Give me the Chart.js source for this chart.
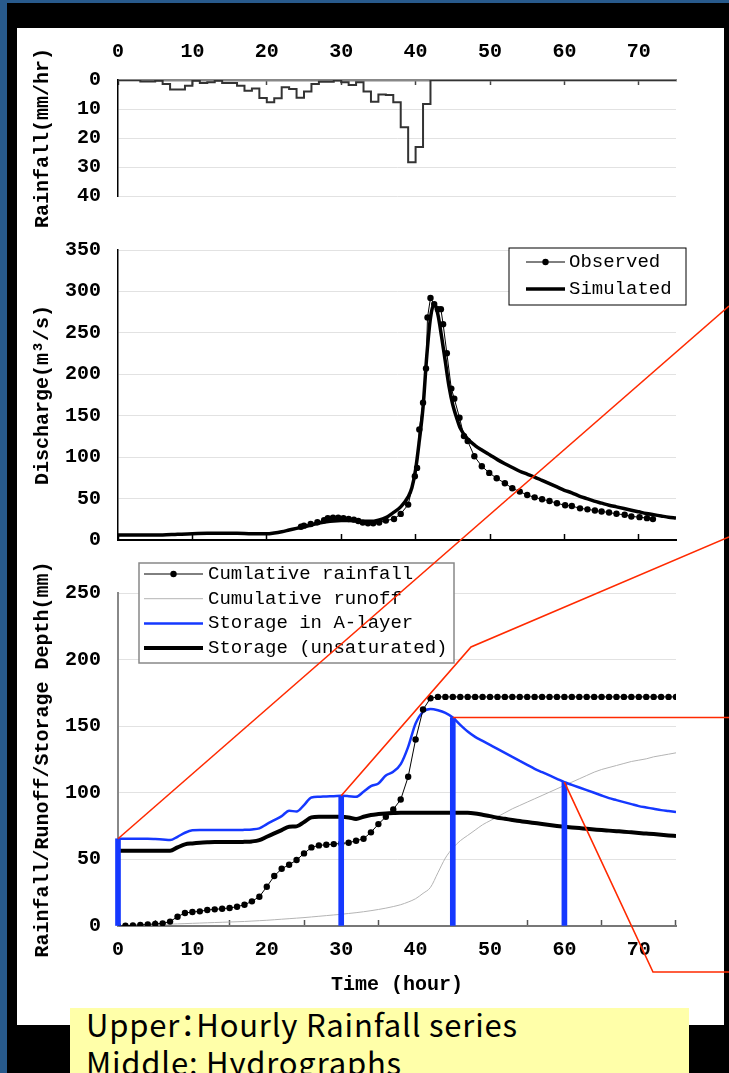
<!DOCTYPE html>
<html>
<head>
<meta charset="utf-8">
<title>Rainfall / Hydrograph / Storage</title>
<script src="https://cdn.jsdelivr.net/npm/chart.js@4.4.0/dist/chart.umd.min.js"></script>
<style>
    html, body { margin: 0; padding: 0; background: #000; overflow: hidden; }
    #page { position: relative; width: 729px; height: 1073px; overflow: hidden; background: #000; }
    .frame-left { position: absolute; left: 0; top: 0; width: 7px; height: 1073px; background: #285a8c; }
    .frame-top { position: absolute; left: 0; top: 0; width: 729px; height: 3px; background: #285a8c; }
    #panel { position: absolute; left: 17px; top: 28px; width: 707px; height: 997px; background: #fff; }
    canvas.plot { position: absolute; left: 17px; }
    #overlay { position: absolute; left: 0; top: 0; z-index: 5; pointer-events: none; }
    #caption {
        position: absolute; left: 70px; top: 1008px; width: 603px; height: 65px;
        padding-left: 16px; background: #ffffa9; z-index: 6; overflow: hidden;
        font-family: 'Noto Sans CJK JP', sans-serif; font-size: 31px; line-height: 38px;
        letter-spacing: 0.8px; font-feature-settings: "palt"; color: #000; white-space: nowrap;
    }
    #caption div:first-child { margin-top: -3px; }
</style>
</head>
<body>
<div id="page">
    <div class="frame-left"></div>
    <div class="frame-top"></div>
    <div id="panel"></div>
    <canvas id="rainChart" class="plot" width="707" height="200" style="top:28px"></canvas>
    <canvas id="flowChart" class="plot" width="707" height="330" style="top:228px"></canvas>
    <canvas id="storageChart" class="plot" width="707" height="480" style="top:545px"></canvas>
    <canvas id="overlay" width="729" height="1073"></canvas>
    <div id="caption">
        <div>Upper：Hourly Rainfall series</div>
        <div>Middle: Hydrographs</div>
    </div>
</div>

<script>
// ---- data ----

const hours = [
    0, 1, 2, 3, 4, 5, 6, 7, 8, 9, 10, 11, 12, 13, 14, 15, 16, 17, 18, 19,
    20, 21, 22, 23, 24, 25, 26, 27, 28, 29, 30, 31, 32, 33, 34, 35, 36, 37, 38, 39,
    40, 41, 42, 43, 44, 45, 46, 47, 48, 49, 50, 51, 52, 53, 54, 55, 56, 57, 58, 59,
    60, 61, 62, 63, 64, 65, 66, 67, 68, 69, 70, 71, 72, 73, 74, 75
];

// hourly rainfall (mm/hr), value i covers hour i..i+1
const rainfall = [
    0, 0, 0, 0.5, 0.5, 0.3, 1.4, 3.3, 3.3, 2, 0.3, 1, 0.8, 0.3, 1, 1, 2, 3.7, 2.9, 6.2,
    7.7, 6.3, 2.5, 3.1, 6.1, 4, 1.4, 0.6, 0.6, 0.2, 0.8, 1.7, 0.8, 4, 7.5, 5, 5.2, 7.7, 16.3, 28.4,
    23.1, 8.3, 0, 0, 0, 0, 0, 0, 0, 0, 0, 0, 0, 0, 0, 0, 0, 0, 0, 0,
    0, 0, 0, 0, 0, 0, 0, 0, 0, 0, 0, 0, 0, 0, 0, 0
];

// observed discharge (m3/s)
const obsTime = [
    24.6, 25.0, 25.9, 26.8, 27.7, 28.2, 28.9, 29.6, 30.3, 31.0, 31.7, 32.3, 32.9, 33.6, 34.3, 35.1,
    36.0, 37.1, 38.0, 39.0, 39.9, 40.2, 40.5, 41.0, 41.4, 41.6, 42.0, 42.5, 43.0, 43.4, 43.7, 44.2,
    44.8, 45.2, 45.9, 46.5, 47.0, 47.9, 48.9, 49.9, 50.9, 52.0, 53.0, 54.0, 55.0, 56.0, 57.0, 58.0,
    59.0, 60.1, 61.0, 62.1, 63.1, 64.1, 65.0, 66.0, 67.0, 68.1, 69.0, 70.1, 71.1, 71.9
];
const obsQ = [
    16, 17.3, 19.4, 21.4, 23.8, 26.2, 27, 27, 26.2, 25.4, 24.6, 23, 21, 20.2, 20.2, 21,
    23.4, 25.4, 31.5, 42.7, 77, 87, 133.5, 165.7, 207, 268.5, 292, 284.7, 278.6, 278.6, 260.5, 225.4,
    182.7, 170.6, 147.6, 125.4, 119.4, 101, 89, 81, 74.5, 68.5, 62.4, 58.4, 54.3, 51.5, 49.1, 47.1,
    44.3, 41.9, 41, 38.2, 37, 35.6, 34.4, 33.2, 31.6, 30.4, 28.4, 27.6, 26.4, 25.2
];

// simulated discharge (m3/s)
const simTime = [
    0, 2, 4, 6, 8, 10, 12, 14, 16, 18, 20, 21, 22, 23, 24, 25, 26, 27, 28, 29,
    30, 31, 32, 33, 34, 35, 36, 37, 38, 39, 39.5, 40, 40.5, 41, 41.5, 42, 42.5, 43, 43.5, 44,
    44.5, 45, 45.5, 46, 47, 48, 49, 50, 51, 52, 53, 54, 55, 56, 57, 58, 59, 60, 61, 62,
    63, 64, 65, 66, 67, 68, 69, 70, 71, 72, 73, 74, 75
];
const simQ = [
    6, 6, 6, 6, 7, 7.5, 8, 8, 8, 7.5, 7.5, 8.5, 10, 12, 14, 16, 18, 20.5, 22, 23,
    23.5, 23.5, 23, 22.5, 22.5, 24, 27, 33, 40, 52, 63, 85, 120, 160, 222, 268, 285, 272, 245, 215,
    185, 163, 148, 135, 122, 114, 108, 102.5, 97, 92, 87.5, 83, 79.5, 76, 72, 68, 64, 60, 57, 53,
    50, 47, 44.5, 42, 40, 38, 36, 34, 32, 30.5, 29, 27.5, 26.5
];

// depths (mm), one value per hour
const cumRainfall = [
    0, 0.2, 0.5, 0.8, 1.2, 1.6, 2, 3.3, 7, 9.8, 10.5, 11, 12, 12.5, 13, 13.5, 14.5, 16, 18.5, 22,
    29.5, 37.5, 43, 46, 49.5, 54.5, 59, 60.5, 61, 61.5, 62, 62.5, 64, 65.5, 70.3, 76.5, 82, 87.5, 95, 112,
    140, 162.5, 171, 172, 172, 172, 172, 172, 172, 172, 172, 172, 172, 172, 172, 172, 172, 172, 172, 172,
    172, 172, 172, 172, 172, 172, 172, 172, 172, 172, 172, 172, 172, 172, 172, 172
];
const cumRunoff = [
    0, 0.2, 0.4, 0.6, 0.8, 1, 1.2, 1.4, 1.6, 1.8, 2, 2.2, 2.4, 2.6, 2.8, 3, 3.2, 3.4, 3.7, 4,
    4.3, 4.7, 5.1, 5.5, 5.9, 6.3, 6.8, 7.3, 7.8, 8.3, 8.8, 9.4, 10, 10.7, 11.5, 12.4, 13.4, 14.6, 16, 18,
    20.5, 24.5, 29, 40, 51, 58.5, 64, 68, 72, 76, 79, 82, 85, 88, 90.5, 93, 95.5, 98, 100.5, 103,
    105.5, 108, 110.5, 113, 115.5, 117.5, 119, 120.5, 122, 123.5, 124.5, 125.5, 127, 128, 129, 130
];
const storageA = [
    65.5, 65.5, 65.5, 65.5, 65.5, 65.3, 65, 64.5, 67, 70, 71.8, 72, 72, 72, 72, 72, 72, 72.2, 72.5, 73.3,
    76.5, 79.5, 82.5, 86.5, 86, 90.8, 96.5, 97, 97.3, 97.5, 97.8, 97.5, 97, 100.8, 105, 107, 113, 115.8, 121.5, 134.5,
    152, 160.8, 163, 162, 160, 156.5, 151, 146, 142, 139, 136, 133, 130, 127, 124, 121, 118, 115.5, 113, 110.5,
    108, 106, 104, 102, 100, 98, 96, 94.5, 93, 91.5, 90, 89, 88, 87, 86.3, 85.6
];
const storageUnsat = [
    56.5, 56.5, 56.5, 56.5, 56.5, 56.5, 56.5, 56.5, 59, 61.3, 62, 62.5, 62.8, 63, 63, 63, 63, 63.2, 63.5, 64.5,
    67, 69.5, 72, 74.5, 74.8, 78, 81.5, 82, 82, 82, 82, 81.5, 80.3, 82, 83.3, 84, 84.5, 84.8, 85, 85,
    85, 85, 85, 85, 85, 85, 85, 85, 84.5, 83.5, 82.5, 81.3, 80.5, 79.6, 78.8, 78, 77.3, 76.6, 75.8, 75.1,
    74.5, 74, 73.5, 73, 72.5, 72, 71.6, 71.2, 70.8, 70.3, 69.8, 69.4, 69, 68.5, 68, 67.6
];

// hours picked out with blue bars and red zoom links
const linkTimes = [0, 30, 45, 60];
// where each red link runs to, in page pixels (null y = keep the start height)
const linkRoutes = [
    [[729, 306]],
    [[471, 647], [729, 537]],
    [[729, null]],
    [[653, 972], [729, 972]]
];

// ---- styling ----

const MONO = "'Liberation Mono', 'DejaVu Sans Mono', monospace";
const tickFont = { family: MONO, size: 20, weight: 'bold' };
const titleFont = { family: MONO, size: 20, weight: 'bold' };
const gridColor = '#e2e2e2';
const BLUE = '#1538ff';

// y grid: invisible tick marks give the label gap without inflating the layout padding
const yGrid = { color: gridColor, drawTicks: true, tickLength: 17, tickColor: 'rgba(0,0,0,0)' };

Chart.defaults.font.family = MONO;
Chart.defaults.color = '#000';
Chart.defaults.animation = false;
Chart.defaults.events = [];
Chart.defaults.plugins.legend.display = false;
Chart.defaults.plugins.tooltip.enabled = false;

const xy = (xs, ys) => xs.map((x, i) => ({ x: x, y: ys[i] }));
const valueAt = (series, t) => series[hours.indexOf(t)];

/**
 * Legend drawn as a framed box, rows in dataset order (bars skipped)
 */
const boxLegend = {
    id: 'boxLegend',
    afterDatasetsDraw(chart, args, opts) {
        if (!opts || opts.width === undefined) return;
        const ctx = chart.ctx;
        ctx.save();
        ctx.fillStyle = '#fff';
        ctx.fillRect(opts.left, opts.top, opts.width, opts.height);
        ctx.strokeStyle = opts.borderColor;
        ctx.lineWidth = opts.borderWidth;
        ctx.strokeRect(opts.left, opts.top, opts.width, opts.height);
        ctx.font = '19px ' + MONO;
        ctx.textBaseline = 'middle';
        chart.data.datasets.filter(ds => ds.type !== 'bar').forEach((ds, i) => {
            const y = opts.top + opts.firstRow + i * opts.rowHeight;
            ctx.strokeStyle = ds.borderColor;
            ctx.lineWidth = ds.borderWidth;
            ctx.beginPath();
            ctx.moveTo(opts.sampleLeft, y);
            ctx.lineTo(opts.sampleRight, y);
            ctx.stroke();
            if (ds.pointRadius > 0) {
                ctx.fillStyle = ds.pointBackgroundColor;
                ctx.beginPath();
                ctx.arc((opts.sampleLeft + opts.sampleRight) / 2, y, ds.pointRadius, 0, Math.PI * 2);
                ctx.fill();
            }
            ctx.fillStyle = '#000';
            ctx.fillText(ds.label, opts.textLeft, y);
        });
        ctx.restore();
    }
};

/**
 * Red zoom links from the storage curve out to the page edge
 */
const zoomLinks = {
    id: 'zoomLinks',
    afterDraw(chart) {
        const overlay = document.getElementById('overlay');
        const ctx = overlay.getContext('2d');
        const page = document.getElementById('page').getBoundingClientRect();
        const box = chart.canvas.getBoundingClientRect();
        const ox = box.left - page.left;
        const oy = box.top - page.top;
        ctx.clearRect(0, 0, overlay.width, overlay.height);
        ctx.strokeStyle = '#ff2a00';
        ctx.lineWidth = 1.6;
        linkTimes.forEach((t, i) => {
            const x0 = ox + chart.scales.x.getPixelForValue(t);
            const y0 = oy + chart.scales.y.getPixelForValue(valueAt(storageA, t));
            ctx.beginPath();
            ctx.moveTo(x0, y0);
            linkRoutes[i].forEach(([x, y]) => ctx.lineTo(x, y === null ? y0 : y));
            ctx.stroke();
        });
    }
};

// ---- upper: hourly rainfall ----

new Chart(document.getElementById('rainChart'), {
    type: 'line',
    data: {
        datasets: [{
            label: 'Rainfall',
            data: xy(hours, rainfall),
            stepped: true,
            borderColor: '#333',
            borderWidth: 2,
            pointRadius: 0
        }]
    },
    options: {
        responsive: false,
        layout: { padding: { left: 0, right: 48, top: 0, bottom: 32 } },
        scales: {
            x: {
                type: 'linear', position: 'top', min: 0, max: 75,
                ticks: { stepSize: 10, includeBounds: false, padding: 21, font: tickFont },
                grid: { drawOnChartArea: false, tickLength: -5, tickColor: '#444', tickWidth: 1.5 },
                border: { color: '#888', width: 2.5 },
                afterFit: s => { s.height = 52; }
            },
            y: {
                min: 0, max: 40, reverse: true,
                ticks: { stepSize: 10, padding: 0, font: tickFont },
                grid: yGrid,
                border: { color: '#000', width: 1.5 },
                title: { display: true, text: 'Rainfall(mm/hr)', font: titleFont, padding: { top: 14, bottom: 0 } },
                afterFit: s => { s.width = 101; }
            }
        }
    }
});

// ---- middle: hydrographs ----

new Chart(document.getElementById('flowChart'), {
    type: 'line',
    data: {
        datasets: [
            {
                label: 'Observed',
                data: xy(obsTime, obsQ),
                borderColor: '#000',
                borderWidth: 1,
                pointRadius: 3.2,
                pointBackgroundColor: '#000',
                pointBorderWidth: 0
            },
            {
                label: 'Simulated',
                data: xy(simTime, simQ),
                borderColor: '#000',
                borderWidth: 3.5,
                pointRadius: 0,
                cubicInterpolationMode: 'monotone'
            }
        ]
    },
    plugins: [boxLegend],
    options: {
        responsive: false,
        layout: { padding: { left: 0, right: 48, top: 22, bottom: 18 } },
        plugins: {
            boxLegend: {
                left: 492, top: 20, width: 177, height: 57, firstRow: 14, rowHeight: 27,
                sampleLeft: 509, sampleRight: 548, textLeft: 552,
                borderColor: '#000', borderWidth: 1
            }
        },
        scales: {
            x: {
                type: 'linear', min: 0, max: 75, offset: false,
                ticks: { display: false, stepSize: 10, includeBounds: false },
                grid: { drawOnChartArea: false, tickLength: -6, tickColor: '#000', tickWidth: 1.5 },
                border: { color: '#000', width: 2 },
                afterFit: s => { s.height = 0; }
            },
            y: {
                min: 0, max: 350,
                ticks: { stepSize: 50, padding: 0, font: tickFont },
                grid: yGrid,
                border: { color: '#000', width: 1.5 },
                title: { display: true, text: 'Discharge(m³/s)', font: titleFont, padding: { top: 14, bottom: 0 } },
                afterFit: s => { s.width = 101; }
            }
        }
    }
});

// ---- lower: cumulative depths and storage ----

new Chart(document.getElementById('storageChart'), {
    type: 'line',
    data: {
        datasets: [
            {
                label: 'Cumlative rainfall',
                data: xy(hours, cumRainfall),
                borderColor: '#000',
                borderWidth: 1,
                pointRadius: 3.2,
                pointBackgroundColor: '#000',
                pointBorderWidth: 0,
                order: 1
            },
            {
                label: 'Cumulative runoff',
                data: xy(hours, cumRunoff),
                borderColor: '#b4b4b4',
                borderWidth: 1,
                pointRadius: 0,
                cubicInterpolationMode: 'monotone',
                order: 4
            },
            {
                label: 'Storage in A-layer',
                data: xy(hours, storageA),
                borderColor: BLUE,
                borderWidth: 2.5,
                pointRadius: 0,
                cubicInterpolationMode: 'monotone',
                order: 2
            },
            {
                label: 'Storage (unsaturated)',
                data: xy(hours, storageUnsat),
                borderColor: '#000',
                borderWidth: 4,
                pointRadius: 0,
                cubicInterpolationMode: 'monotone',
                order: 3
            },
            {
                type: 'bar',
                data: linkTimes.map(t => ({ x: t, y: valueAt(storageA, t) })),
                backgroundColor: BLUE,
                barThickness: 5,
                clip: false,
                order: 0
            }
        ]
    },
    plugins: [boxLegend, zoomLinks],
    options: {
        responsive: false,
        layout: { padding: { left: 0, right: 48, top: 48, bottom: 19 } },
        plugins: {
            boxLegend: {
                left: 122, top: 18, width: 315, height: 100, firstRow: 11, rowHeight: 24.7,
                sampleLeft: 127, sampleRight: 186, textLeft: 191,
                borderColor: '#888', borderWidth: 1.5
            }
        },
        scales: {
            x: {
                type: 'linear', min: 0, max: 75, offset: false,
                ticks: { stepSize: 10, includeBounds: false, padding: 18, font: tickFont },
                grid: { drawOnChartArea: false, tickLength: -6, tickColor: '#555', tickWidth: 1.5 },
                border: { color: '#777', width: 2 },
                title: { display: true, text: 'Time (hour)', font: titleFont, padding: { top: 0, bottom: 9 } },
                afterFit: s => { s.height = 80; }
            },
            y: {
                min: 0, max: 250,
                ticks: { stepSize: 50, padding: 0, font: tickFont },
                grid: yGrid,
                border: { color: '#888', width: 2 },
                title: { display: true, text: 'Rainfall/Runoff/Storage Depth(mm)', font: titleFont, padding: { top: 14, bottom: 0 } },
                afterFit: s => { s.width = 101; }
            }
        }
    }
});
</script>
</body>
</html>
